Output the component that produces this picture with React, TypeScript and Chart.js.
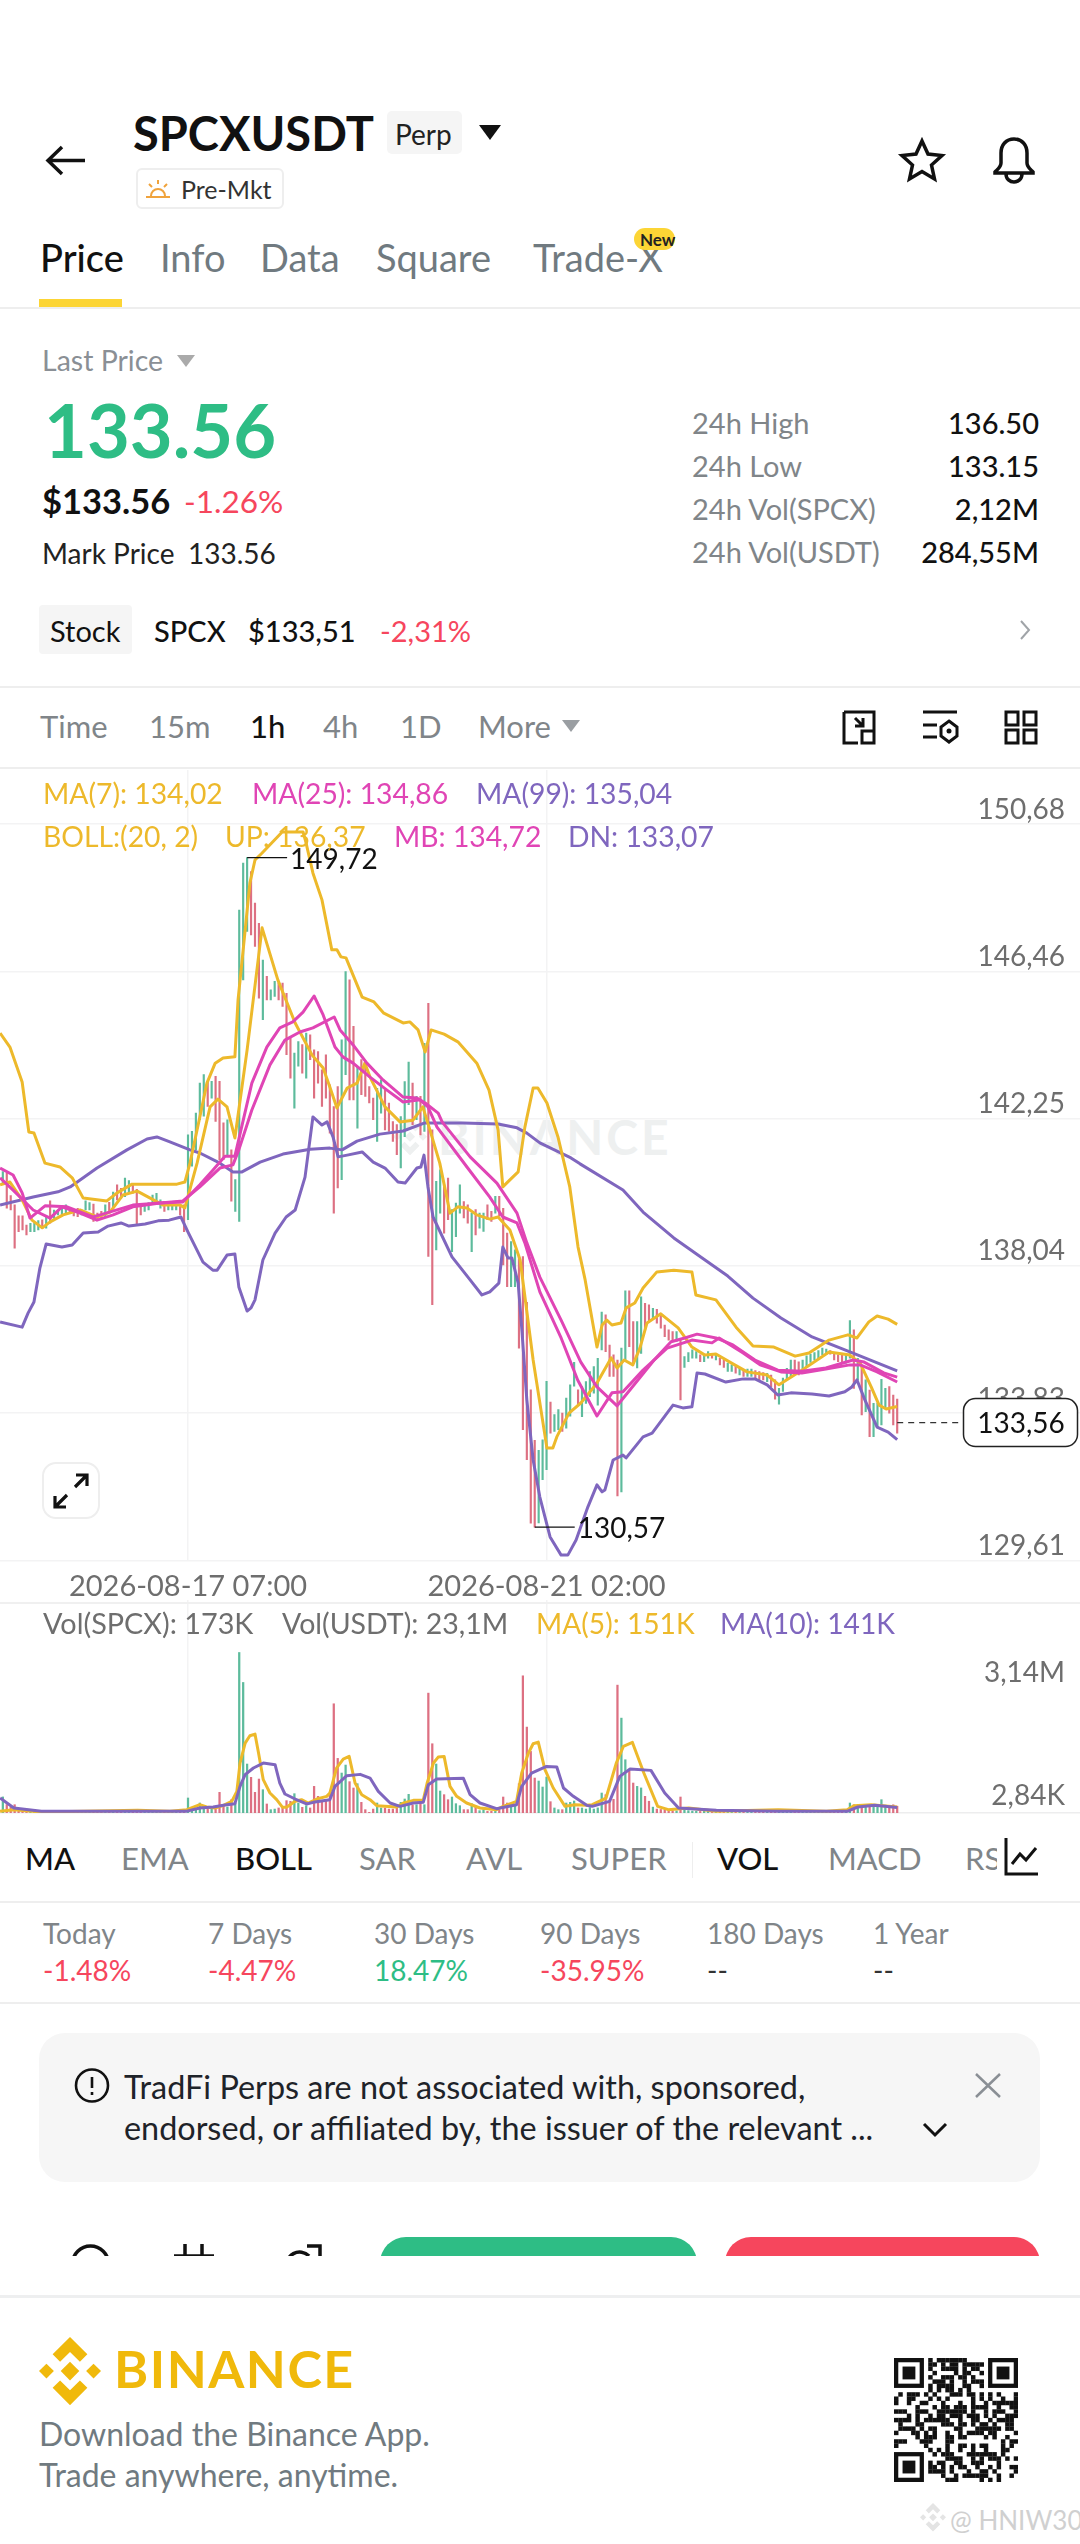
import React, { useEffect, useRef } from "react";
import { Chart, registerables } from "chart.js";

Chart.register(...registerables);

// ---------- price pane data (hours relative to 2026-08-17 07:00) ----------
const firstCandleHour = -47;
const candleSides =
  "GRRRRRRGGG" + "RGRGGGGRRR" + "GGGRRRGRGR" + "RGGRRRGGGG" + "GRGGGRRGGG" +
  "GGRGRRRGRG" + "GGGRRRGRGG" + "RRRRGGRGRR" + "RRRRRRGGRR" + "GRRRRGGRRR" +
  "RGGGRGRGRR" + "GGRRGGGRRG" + "RGGRRGRRRG" + "GRRRRRGGGR" + "GGRGGGRGGG" +
  "GGGRRRRGGR" + "RGGRRGRRRR" + "RGRGGGGRGG" + "RGRRGGRGRG" + "GRRRGRRGGG" +
  "GRRGGGGGGG" + "RRRRGGRGRG" + "RGGGGRRR";
const candleHigh = [
  140.74,140.69,140.05,139.79,139.47,139.47,139.21,139.26,139.26,139.34,
  139.36,139.43,139.90,139.64,139.64,139.69,139.79,139.69,139.60,139.69,
  139.64,139.90,139.85,139.81,139.55,139.60,139.79,139.86,140.15,140.36,
  140.26,140.55,140.48,140.36,140.23,139.79,139.79,139.85,140.07,140.12,
  139.93,139.88,139.83,139.81,139.79,139.74,139.79,
  141.79,141.89,142.41,143.27,143.51,143.32,143.32,143.46,143.32,142.13,
  142.22,141.36,140.51,148.22,149.56,149.72,149.32,148.42,147.84,146.79,
  146.32,145.94,146.18,146.13,146.13,145.84,144.60,144.13,144.46,144.37,
  144.70,144.65,144.22,144.17,143.65,144.08,143.22,142.60,143.17,144.51,
  146.46,146.22,144.89,143.75,143.94,143.84,143.17,142.84,143.12,143.36,
  143.08,142.70,142.17,142.08,142.31,143.31,143.87,143.27,142.89,142.89,
  144.41,145.55,141.93,140.46,140.79,140.36,140.55,139.65,139.84,140.36,
  139.88,139.79,139.55,139.65,139.55,139.55,139.79,139.60,140.03,140.03,
  139.69,138.98,138.74,138.50,138.31,138.31,137.00,134.50,133.05,132.77,
  133.07,134.74,134.15,133.79,133.93,133.83,134.26,134.64,135.28,134.50,
  134.59,134.73,135.02,135.16,135.40,136.72,136.64,135.78,135.50,135.35,
  135.69,137.33,137.33,136.45,136.45,137.16,136.97,136.93,136.83,136.80,
  136.64,136.35,136.21,136.16,136.16,135.97,135.45,135.56,135.64,135.59,
  135.50,135.50,135.59,135.54,135.50,135.40,135.35,135.26,135.21,135.16,
  135.11,135.07,135.09,135.09,135.05,135.02,134.99,134.97,134.92,134.78,
  134.54,134.83,135.11,135.35,135.35,135.30,135.35,135.47,135.52,135.56,
  135.62,135.69,135.66,135.62,135.56,135.50,135.50,135.50,136.48,136.21,
  135.40,135.16,134.78,134.49,134.11,134.11,134.80,134.54,134.59,134.35,
  134.23,
];
const candleLow = [
  140.41,139.69,139.64,138.55,139.02,139.07,138.93,139.02,139.02,139.07,
  139.12,139.12,139.26,139.40,139.50,139.50,139.55,139.55,139.47,139.45,
  139.50,139.64,139.64,139.31,139.36,139.40,139.45,139.60,139.69,139.93,
  139.98,140.02,140.12,140.12,139.24,139.50,139.60,139.64,139.83,139.88,
  139.69,139.60,139.64,139.64,139.64,139.50,139.02,
  139.36,140.89,141.36,142.22,142.32,142.60,142.84,142.17,141.08,141.08,
  141.22,139.89,139.60,139.31,146.22,147.61,147.51,147.18,145.70,145.08,
  145.65,145.65,145.75,145.65,145.46,144.08,143.41,142.55,143.75,143.55,
  143.41,143.94,142.84,143.27,142.60,142.84,141.84,139.55,140.27,140.51,
  143.51,142.79,142.79,141.98,142.94,142.89,142.70,142.22,141.60,142.41,
  141.93,141.89,141.60,141.22,140.84,141.74,142.65,142.08,142.22,141.79,
  141.89,138.31,136.93,138.50,139.55,138.98,139.36,138.45,138.88,139.55,
  139.41,139.26,138.45,138.93,139.12,139.03,139.36,139.31,139.55,139.46,
  138.07,137.45,137.45,137.45,135.69,133.36,132.50,130.68,130.57,130.69,
  131.93,132.21,133.26,133.31,133.36,133.31,133.40,133.74,134.60,134.07,
  133.73,134.11,134.30,134.40,134.06,135.64,135.59,134.88,134.88,131.46,
  131.58,135.30,135.73,135.26,135.12,135.54,136.21,136.45,136.50,136.40,
  136.26,136.02,135.92,135.88,135.88,134.21,135.14,135.30,135.40,135.40,
  135.30,135.30,135.40,135.40,135.35,135.21,135.14,135.02,135.02,134.97,
  134.92,134.88,134.88,134.88,134.83,134.78,134.78,134.73,134.59,134.23,
  134.09,134.45,134.78,134.88,134.97,134.92,135.07,135.16,135.28,135.35,
  135.40,135.50,135.50,135.52,135.35,135.30,135.26,135.26,135.40,134.54,
  134.78,133.78,133.87,133.16,133.16,133.45,133.49,133.97,133.83,133.49,
  133.26,
];

const bollUp: [number, number][] = [
  [-47.7,144.70],[-45.2,144.30],[-42.1,143.30],[-40.4,141.87],[-39.1,141.84],[-36.3,140.98],[-32.5,140.87],[-29.4,140.56],
  [-26.6,139.98],[-20.6,139.90],[-18,140.13],[-14.2,140.38],[-2.8,140.38],[-0.8,140.44],[0.5,140.98],[3,142.30],[4.8,143.27],
  [6.9,143.84],[8.9,143.99],[11.9,144.02],[12.7,145.65],[14,147.08],[15.7,148.99],[17,149.65],[18.8,149.85],[23.9,150.45],
  [29.2,150.45],[29.9,150.17],[31.7,149.28],[34,148.51],[36.5,147.08],[37.8,147.08],[38.8,146.88],[40.1,146.85],[44.2,145.73],
  [47.2,145.59],[49.7,145.27],[54.6,144.99],[56.3,145.02],[58.4,144.79],[60.2,144.16],[61.7,144.79],[65,144.67],[68.5,144.45],
  [73.3,143.84],[76.4,143.07],[78.7,141.93],[79.9,140.30],[81.7,140.50],[83.8,140.73],[85.5,142.01],[87.6,143.13],[88.8,143.13],
  [91.1,142.70],[93.9,141.73],[96.9,140.30],[99,138.58],[100.8,137.64],[103.8,135.72],[105.1,136.35],[106.3,136.49],[107.6,136.35],
  [109.9,136.41],[111.2,136.84],[113.4,136.98],[115.5,137.41],[119,137.87],[123.3,137.92],[127.9,137.87],[128.9,137.21],[134,137.07],
  [139.1,136.29],[143.4,135.75],[148.7,135.72],[154.1,135.46],[157.6,135.55],[162.7,135.92],[167.5,136.07],[169.8,135.98],
  [172.8,136.44],[174.9,136.61],[177.7,136.52],[180,136.37],
];
const bollDn: [number, number][] = [
  [-47.7,136.44],[-42.1,136.29],[-40.6,136.69],[-39.1,137.01],[-37.6,137.98],[-36,138.67],[-32,138.58],[-29.4,138.64],[-26.6,138.98],
  [-22.8,139.01],[-20.3,139.18],[-17,139.27],[-15,139.18],[-10.9,139.24],[-7.6,139.33],[-4.8,139.35],[-1.8,139.44],[0,139.01],
  [3.8,138.15],[6.3,137.92],[7.4,137.92],[9.9,138.35],[11.9,138.38],[12.9,137.44],[15,136.75],[16,136.84],[17,137.07],[19,138.21],
  [22.1,138.98],[24.9,139.44],[27.2,139.64],[29.7,140.58],[31.7,142.30],[34,142.07],[35.3,142.16],[36.8,141.73],[38.1,141.16],
  [40.4,141.21],[44.2,141.30],[47,141.01],[50,140.84],[53.3,140.44],[55.1,140.41],[58.1,140.84],[59.1,140.87],[59.9,141.21],
  [60.9,140.30],[62.2,139.44],[67,138.30],[71.6,137.64],[74.6,137.21],[76.6,137.30],[78.9,137.55],[79.9,138.58],[81.2,138.27],
  [82.2,138.27],[83.8,137.55],[84.8,136.12],[86,134.21],[87.6,132.49],[89.3,131.43],[91.9,130.29],[94.7,129.77],[96.4,129.77],
  [98.5,130.20],[101.5,131.15],[103.8,131.78],[105.1,131.58],[105.8,131.63],[107.9,132.49],[110.4,132.63],[111.2,132.55],
  [115.5,133.15],[117.8,133.26],[123.1,134.06],[125.6,133.98],[127.9,134.01],[129.2,134.98],[131.2,134.95],[136.5,134.72],
  [140.9,134.81],[143.9,134.81],[147,134.64],[149.7,134.35],[153,134.41],[158.4,134.38],[162.7,134.32],[166.7,134.44],[168.5,134.58],
  [169.8,134.78],[171.8,134.21],[174.9,133.43],[177.7,133.29],[180,133.07],
];
const bollMb: [number, number][] = [
  [-47.7,140.56],[-44.4,140.21],[-39.3,139.64],[-35,139.41],[-32,139.73],[-27.4,139.55],[-23.1,139.35],[-19,139.50],[-14,139.73],
  [-7.1,139.84],[-1.3,139.87],[3,140.36],[6.3,140.78],[8.1,141.01],[9.4,141.18],[11.9,141.18],[16.2,143.27],[20,144.30],[23.3,144.85],
  [26.6,145.02],[29.2,145.30],[32,145.76],[34.3,145.22],[37.3,144.30],[39.3,144.02],[41.9,143.84],[46.2,143.44],[50.5,143.07],
  [54.6,142.73],[58.9,142.79],[60.9,142.59],[63.2,142.01],[70.8,140.87],[76.6,140.01],[79.9,139.44],[83.5,139.27],[85.5,138.70],
  [89.3,137.30],[94.7,135.98],[98.9,134.78],[103.8,133.75],[107.6,134.41],[110.4,134.44],[115.5,135.06],[121.6,135.69],[127.9,135.92],
  [133,135.84],[134.8,135.98],[140.9,135.55],[145.2,135.21],[150.5,135.01],[155.8,134.98],[161.9,135.09],[168,135.21],[170.6,135.21],
  [174.9,135.01],[180,134.72],
];
const ma7: [number, number][] = [
  [-47.7,140.36],[-45.2,140.44],[-42.1,139.93],[-39.6,139.35],[-37,139.13],[-35,139.30],[-31.7,139.50],[-27.4,139.64],[-23.1,139.44],
  [-19.8,139.58],[-16.5,140.07],[-12.9,140.18],[-9.6,139.98],[-6.3,139.78],[-2,139.78],[-0.8,139.70],[2.3,140.98],[5.6,142.59],
  [7.6,142.81],[9.9,142.59],[11.9,141.70],[15,144.22],[18.8,147.71],[22.8,146.22],[27.2,144.99],[31.5,144.07],[34.3,143.70],[36,143.16],
  [37.8,142.56],[40.4,143.13],[42.9,143.27],[44.9,143.84],[46.2,143.44],[50,142.59],[53.8,142.16],[57.1,142.21],[59.6,142.59],
  [61.4,141.93],[63.9,140.98],[66.5,139.55],[68.5,139.73],[70.8,139.70],[73.3,139.50],[76.6,139.38],[78.7,139.44],[81.7,139.07],
  [84.3,138.21],[87.6,135.35],[91.1,132.83],[92.6,132.83],[93.6,133.15],[96.7,133.83],[99.7,134.12],[103.8,134.69],[107.4,135.41],
  [108.9,135.12],[110.7,135.35],[112.9,135.21],[114.7,135.69],[116.5,136.41],[120,136.67],[124.4,136.27],[127.9,135.72],[131.2,135.49],
  [134,135.52],[138.3,135.24],[141.9,135.01],[147,134.92],[150,134.64],[155.8,135.06],[162.7,135.58],[168,135.49],[170.6,135.26],
  [173.4,134.58],[175.4,134.06],[177.2,133.95],[180,134.02],
];
const ma25: [number, number][] = [
  [-47.7,140.84],[-44.4,140.64],[-42.1,140.13],[-40.1,139.41],[-36.3,139.76],[-30.7,139.73],[-24.1,139.44],[-22.3,139.50],[-14,139.78],
  [-7.1,139.84],[-1.3,139.90],[3,140.30],[8.1,140.84],[11.4,140.93],[12.9,141.36],[16.2,142.50],[20.8,143.79],[24.6,144.50],[28.4,144.73],
  [31.7,144.85],[37.1,145.16],[38.6,144.79],[41.9,144.36],[45.4,143.84],[49.5,143.36],[54.6,142.87],[58.1,142.84],[60.2,142.70],
  [63.5,142.41],[64.5,142.16],[71.6,141.16],[78.4,140.41],[83.5,139.55],[86,138.70],[89.3,137.72],[94.7,136.49],[99.7,135.29],
  [103.8,134.58],[108.9,134.04],[112.2,134.50],[118.3,135.35],[122.6,135.87],[126.1,135.98],[129.2,136.09],[134,135.98],[138.3,135.78],
  [143.9,135.35],[149.7,135.06],[155.8,135.03],[161.9,135.12],[168.8,135.35],[171.6,135.29],[176.6,134.98],[180,134.86],
];
const ma99: [number, number][] = [
  [-47.7,139.78],[-39.3,140.01],[-33,140.16],[-29.9,140.30],[-23.1,140.84],[-15.5,141.36],[-10.4,141.67],[-7.9,141.73],[-4.6,141.59],
  [0.5,141.36],[3,141.27],[8.1,140.98],[11.4,140.73],[13.7,140.73],[18.3,141.01],[24.1,141.24],[31,141.38],[36,141.41],[39.1,141.36],
  [42.9,141.61],[48.7,141.81],[54.6,141.90],[60.1,142.13],[69.8,142.13],[78.7,142.10],[83.5,141.99],[86,141.84],[89.3,141.56],
  [97.2,141.13],[99.5,140.96],[110.4,140.21],[115.5,139.58],[123.3,138.84],[130.5,138.27],[137,137.75],[143.4,137.12],[150.5,136.55],
  [158.4,136.01],[168,135.58],[180,135.04],
];
const priceTicks = [150.68, 146.46, 142.25, 138.04, 133.83, 129.61];
const dateTicks: Record<number, string> = { 0: "2026-08-17 07:00", 91: "2026-08-21 02:00" };
const lastPrice = 133.56;
const highMark: [number, number] = [15, 149.72];
const lowMark: [number, number] = [88, 130.57];

// ---------- volume pane data (thousands of SPCX) ----------
const volumes = [
  410,215,150,212,105,70,60,48,40,35,32,30,28,25,28,24,22,25,30,28,
  32,30,36,40,35,30,28,34,40,38,44,36,30,28,32,35,30,26,30,34,38,30,28,26,32,36,42,
  383,85,85,255,170,100,100,128,527,170,
  153,340,255,4097,3332,1250,910,527,867,595,
  230,85,100,128,128,315,298,493,255,145,
  187,128,680,425,315,340,493,2788,1394,1020,
  1224,800,638,748,272,85,17,100,255,128,
  128,100,100,128,272,357,476,204,212,255,
  212,3060,1768,1250,561,468,340,408,238,187,
  85,85,238,145,60,85,42,42,42,68,
  408,255,212,187,748,3502,2193,1572,892,816,
  663,918,289,128,85,85,255,272,306,128,
  128,100,140,100,130,510,467,300,350,3264,
  2422,1360,1105,765,680,640,425,300,150,100,
  90,80,70,60,55,408,75,60,50,45,
  40,50,55,42,48,40,35,44,38,30,
  42,36,40,46,38,32,34,48,42,50,
  60,44,55,62,48,52,40,58,46,44,
  50,62,56,46,38,44,52,60,255,210,
  190,170,180,200,220,180,340,200,190,210,
  173,
];
const volMa5: [number, number][] = [
  [-47.7,42],[-44.2,85],[-37.2,25],[-12.8,68],[-4.6,42],[-0.3,85],[3,212],[4.7,153],[6.9,128],[9,195],[11.1,298],[12.4,552],[13.2,1275],
  [14.5,1785],[15.7,1972],[17,2015],[17.9,1530],[19.1,850],[20.8,510],[22.5,340],[24,145],[25,145],[27.2,298],[28.8,340],[30.5,255],
  [32.7,357],[35.2,425],[36,510],[37.7,1148],[39.4,1377],[40.9,1445],[42.4,765],[44.1,468],[46.2,340],[47.9,187],[53,153],[54.7,255],
  [57.2,323],[59.7,323],[60.7,765],[62.3,1275],[63.5,1428],[65,1445],[66.5,680],[68.2,425],[70.7,255],[74.1,128],[78.3,85],[80,170],
  [83.4,298],[84.7,1020],[86.4,1530],[87.6,1768],[88.9,1810],[90.6,1105],[92.7,638],[95.7,170],[98.2,212],[101.2,195],[102.6,212],
  [106.1,382],[108.7,1275],[110.5,1700],[112.8,1802],[115.7,1020],[119.2,170],[121.9,85],[127.1,128],[134.1,42],[149.8,85],[162,42],
  [167.3,85],[169,187],[173.4,212],[180,151],
];
const volMa10: [number, number][] = [
  [-47.7,382],[-44.2,128],[-37.2,42],[-0.5,42],[3,128],[6.4,153],[9.4,204],[11.9,238],[13.2,680],[14.5,978],[16.6,1148],[19.1,1275],
  [22.1,1232],[23.3,765],[24.6,485],[27.2,357],[30.1,230],[31.8,272],[36,340],[37.3,680],[40.3,952],[43.7,986],[46.2,892],[48.3,552],
  [51.3,255],[53.8,170],[57.2,255],[59.7,272],[61,722],[63.1,867],[69.9,884],[71.6,468],[74.1,255],[78.3,110],[83.4,212],[84.7,680],
  [87.2,1020],[91,1190],[93.6,1173],[95.3,638],[97.8,425],[101.2,195],[102.6,170],[107,298],[109.6,935],[112.2,1122],[117.5,1088],
  [121,510],[124.5,128],[134.1,68],[149.8,42],[167.3,42],[170,153],[174.3,195],[180,141],
];
const volumeTicks: Record<number, string> = { 2.84: "2,84K", 3140: "3,14M" };

// ---------- page text ----------
const timeTabs = [["Time", 40, 0], ["15m", 149, 0], ["1h", 250, 1], ["4h", 323, 0], ["1D", 400, 0], ["More", 478, 0]] as const;
const pageTabs = [["Price", 40, 1], ["Info", 160, 0], ["Data", 260, 0], ["Square", 376, 0], ["Trade-X", 533, 0]] as const;
const stats = [["24h High", "136.50", 422], ["24h Low", "133.15", 465], ["24h Vol(SPCX)", "2,12M", 508], ["24h Vol(USDT)", "284,55M", 551]] as const;
const indicators = [["MA", 25, 1], ["EMA", 121, 0], ["BOLL", 235, 1], ["SAR", 359, 0], ["AVL", 466, 0], ["SUPER", 571, 0], ["VOL", 717, 1], ["MACD", 828, 0], ["RS", 965, 0]] as const;
const periods = [["Today", "-1.48%", 43], ["7 Days", "-4.47%", 208], ["30 Days", "18.47%", 374], ["90 Days", "-35.95%", 540], ["180 Days", "--", 707], ["1 Year", "--", 873]] as const;

const GREEN = "#2EBD85";
const RED = "#F6465D";
const YELLOW = "#EDB92B";
const MAGENTA = "#E045B5";
const PURPLE = "#7F66BE";
const WICK_G = "#5DBB9C";
const WICK_R = "#DD7082";
const GRID = "#F3F3F4";
const AXIS_TXT = "#6E6E6E";
const FONT = "Lato, 'Open Sans', sans-serif";
const CHART_FONT = "Lato";

const pts = (a: [number, number][]) => a.map(([x, y]) => ({ x, y }));
const xMin = -47.72;
const xMax = 226.4;

function T(p: { x: number; y: number; s: number; c?: string; w?: number; right?: boolean; ls?: number; children: React.ReactNode }) {
  const pos: React.CSSProperties = p.right ? { right: 1080 - p.x } : { left: p.x };
  return (
    <div style={{ position: "absolute", ...pos, top: p.y, transform: "translateY(-50%)", whiteSpace: "nowrap", fontFamily: FONT, fontSize: p.s, color: p.c ?? "#1E2329", fontWeight: p.w ?? 400, letterSpacing: p.ls ?? 0, lineHeight: 1 }}>
      {p.children}
    </div>
  );
}
function Box(p: { x: number; y: number; w: number; h: number; bg?: string; r?: number; border?: string; children?: React.ReactNode }) {
  return <div style={{ position: "absolute", left: p.x, top: p.y, width: p.w, height: p.h, background: p.bg, borderRadius: p.r, border: p.border, boxSizing: "border-box", overflow: "hidden" }}>{p.children}</div>;
}
function Tri(p: { x: number; y: number; w: number; h: number; c: string }) {
  return (
    <svg style={{ position: "absolute", left: p.x, top: p.y }} width={p.w} height={p.h} viewBox="0 0 10 10" preserveAspectRatio="none">
      <polygon points="0,0 10,0 5,10" fill={p.c} />
    </svg>
  );
}
function Icon(p: { x: number; y: number; w: number; h: number; vb?: string; children: React.ReactNode }) {
  return (
    <svg style={{ position: "absolute", left: p.x, top: p.y, overflow: "visible" }} width={p.w} height={p.h} viewBox={p.vb ?? `0 0 ${p.w} ${p.h}`} fill="none" stroke="#111" strokeWidth={3.5}>
      {p.children}
    </svg>
  );
}

function Qr() {
  const n = 29;
  const cell = 124 / n;
  const rects: React.ReactNode[] = [];
  const isFinder = (r: number, c: number) => (r < 8 && c < 8) || (r < 8 && c >= n - 8) || (r >= n - 8 && c < 8);
  let s = 0x5a3c;
  for (let r = 0; r < n; r++) {
    for (let c = 0; c < n; c++) {
      s = ((s << 1) | (((s >> 15) ^ (s >> 13) ^ (s >> 12) ^ (s >> 10)) & 1)) & 0xffff;
      if (!isFinder(r, c) && s & 1) rects.push(<rect key={`${r}-${c}`} x={c * cell} y={r * cell} width={cell + 0.2} height={cell + 0.2} fill="#111" />);
    }
  }
  const finder = (x: number, y: number) => (
    <g key={`${x}-${y}`}>
      <rect x={x * cell} y={y * cell} width={7 * cell} height={7 * cell} fill="#111" />
      <rect x={(x + 1) * cell} y={(y + 1) * cell} width={5 * cell} height={5 * cell} fill="#fff" />
      <rect x={(x + 2) * cell} y={(y + 2) * cell} width={3 * cell} height={3 * cell} fill="#111" />
    </g>
  );
  return (
    <svg style={{ position: "absolute", left: 894, top: 2358 }} width={124} height={124}>
      {rects}
      {finder(0, 0)}
      {finder(n - 7, 0)}
      {finder(0, n - 7)}
    </svg>
  );
}

function BinanceMark(p: { x: number; y: number; size: number; c: string }) {
  return (
    <svg style={{ position: "absolute", left: p.x, top: p.y }} width={p.size} height={p.size * 1.1} viewBox="0 0 100 110" preserveAspectRatio="none">
      <g fill={p.c}>
        <polygon points="50,0 78,28 66,40 50,24 34,40 22,28" />
        <polygon points="50,110 22,82 34,70 50,86 66,70 78,82" />
        <polygon points="12,43 24,55 12,67 0,55" />
        <polygon points="88,43 100,55 88,67 76,55" />
        <polygon points="50,40 65,55 50,70 35,55" />
      </g>
    </svg>
  );
}

export default function App() {
  const priceRef = useRef<HTMLCanvasElement>(null);
  const volRef = useRef<HTMLCanvasElement>(null);

  useEffect(() => {
    document.body.style.margin = "0";
    const hours = candleHigh.map((_, i) => firstCandleHour + i);
    const sideColors = hours.map((_, i) => (candleSides[i] === "G" ? WICK_G : WICK_R));

    const line = (label: string, data: [number, number][], color: string, order: number, width = 3) => ({
      type: "line" as const,
      label,
      data: pts(data),
      borderColor: color,
      borderWidth: width,
      pointRadius: 0,
      tension: 0,
      order,
      borderJoinStyle: "round" as const,
    });

    const overlay = {
      id: "overlay",
      afterDraw(chart: any) {
        const { ctx, scales } = chart;
        const xs = scales.x;
        const ys = scales.y;
        ctx.save();
        ctx.textBaseline = "middle";
        ctx.font = `28px ${CHART_FONT}`;
        ctx.fillStyle = "#111";
        ctx.strokeStyle = "#111";
        ctx.lineWidth = 1.2;
        for (const [h, p] of [highMark, lowMark]) {
          const px = xs.getPixelForValue(h);
          const py = ys.getPixelForValue(p);
          ctx.beginPath();
          ctx.moveTo(px, py);
          ctx.lineTo(px + 40, py);
          ctx.stroke();
          ctx.textAlign = "left";
          ctx.fillText(p.toFixed(2).replace(".", ","), px + 43, py + 2);
        }
        const tagY = ys.getPixelForValue(lastPrice);
        const tagStart = xs.getPixelForValue(180);
        ctx.setLineDash([6, 5]);
        ctx.lineWidth = 1.3;
        ctx.strokeStyle = "#333";
        ctx.beginPath();
        ctx.moveTo(tagStart, tagY);
        ctx.lineTo(963, tagY);
        ctx.stroke();
        ctx.setLineDash([]);
        ctx.fillStyle = "#fff";
        ctx.strokeStyle = "#222";
        ctx.lineWidth = 1.5;
        ctx.beginPath();
        ctx.roundRect(963.5, tagY - 24, 114, 48, 12);
        ctx.fill();
        ctx.stroke();
        ctx.fillStyle = "#111";
        ctx.textAlign = "center";
        ctx.fillText(lastPrice.toFixed(2).replace(".", ","), 1021, tagY + 1);
        ctx.restore();
      },
    };

    const noPad = (s: any) => {
      s.paddingTop = 0;
      s.paddingBottom = 0;
      s.paddingLeft = 0;
      s.paddingRight = 0;
    };

    const price = new Chart(priceRef.current!, {
      type: "bar",
      plugins: [overlay],
      data: {
        datasets: [
          line("MA(99)", ma99, PURPLE, 6),
          line("DN", bollDn, PURPLE, 5),
          line("UP", bollUp, YELLOW, 4),
          line("MA(7)", ma7, YELLOW, 3),
          line("MA(25)", ma25, MAGENTA, 2),
          line("MB", bollMb, MAGENTA, 1),
          {
            type: "bar" as const,
            label: "Candles",
            data: hours.map((h, i) => ({ x: h, y: [candleLow[i], candleHigh[i]] })),
            backgroundColor: sideColors,
            barThickness: 1.5,
            grouped: false,
            order: 10,
          },
        ] as any,
      },
      options: {
        animation: false,
        responsive: false,
        layout: { padding: 0 },
        plugins: { legend: { display: false }, tooltip: { enabled: false } },
        scales: {
          x: {
            type: "linear",
            min: xMin,
            max: xMax,
            offset: false,
            grid: { color: GRID, lineWidth: 1.5, offset: false, drawTicks: false },
            border: { display: false },
            afterBuildTicks: (s: any) => {
              s.ticks = Object.keys(dateTicks).map((v) => ({ value: Number(v) }));
            },
            afterFit: (s: any) => {
              s.height = 49.3;
              noPad(s);
            },
            ticks: {
              autoSkip: false,
              maxRotation: 0,
              padding: 9,
              color: AXIS_TXT,
              font: { family: CHART_FONT, size: 29 },
              callback: (v: any) => dateTicks[v] ?? "",
            },
          },
          y: {
            type: "linear",
            position: "right",
            min: 129.61,
            max: 152.224,
            grid: { color: GRID, lineWidth: 1.5, drawTicks: false },
            border: { display: false },
            afterBuildTicks: (s: any) => {
              s.ticks = priceTicks.map((v) => ({ value: v }));
            },
            afterFit: (s: any) => {
              s.width = 0;
              noPad(s);
            },
            ticks: {
              mirror: true,
              padding: -15,
              labelOffset: -14.5,
              color: AXIS_TXT,
              font: { family: CHART_FONT, size: 28 },
              callback: (v: any) => Number(v).toFixed(2).replace(".", ","),
            },
          },
        },
      } as any,
    });

    const vol = new Chart(volRef.current!, {
      type: "bar",
      data: {
        datasets: [
          line("MA(10)", volMa10, PURPLE, 1, 3),
          line("MA(5)", volMa5, YELLOW, 2, 3),
          {
            type: "bar" as const,
            label: "Volume",
            data: hours.map((h, i) => ({ x: h, y: volumes[i] })),
            backgroundColor: sideColors,
            barThickness: 1.6,
            grouped: false,
            order: 10,
          },
        ] as any,
      },
      options: {
        animation: false,
        responsive: false,
        layout: { padding: 0 },
        plugins: { legend: { display: false }, tooltip: { enabled: false } },
        scales: {
          x: {
            type: "linear",
            min: xMin,
            max: xMax,
            offset: false,
            grid: { color: GRID, lineWidth: 1.5, offset: false, drawTicks: false },
            border: { display: false },
            afterBuildTicks: (s: any) => {
              s.ticks = Object.keys(dateTicks).map((v) => ({ value: Number(v) }));
            },
            afterFit: (s: any) => {
              s.height = 1;
              noPad(s);
            },
            ticks: { display: false },
          },
          y: {
            type: "linear",
            position: "right",
            min: 0,
            max: 5437,
            grid: {
              drawTicks: false,
              lineWidth: 1.5,
              color: (c: any) => (c.tick?.value === 3140 ? "transparent" : "#EDEDEE"),
            },
            border: { display: false },
            afterBuildTicks: (s: any) => {
              s.ticks = Object.keys(volumeTicks).map((v) => ({ value: Number(v) }));
            },
            afterFit: (s: any) => {
              s.width = 0;
              noPad(s);
            },
            ticks: {
              mirror: true,
              padding: -15,
              labelOffset: -17,
              color: AXIS_TXT,
              font: { family: CHART_FONT, size: 28 },
              callback: (v: any) => volumeTicks[v] ?? "",
            },
          },
        },
      } as any,
    });

    return () => {
      price.destroy();
      vol.destroy();
    };
  }, []);

  return (
    <div style={{ position: "absolute", left: 0, top: 0, width: 1080, height: 2544, background: "#fff", overflow: "hidden" }}>
      {/* header */}
      <Icon x={45} y={145} w={40} h={31}>
        <path d="M40 15.5H3M17 2L3 15.5L17 29" />
      </Icon>
      <T x={133} y={133} s={47} w={700} c="#111">SPCXUSDT</T>
      <Box x={387} y={111} w={75} h={43} bg="#F5F5F5" r={5} />
      <T x={395} y={134} s={28} c="#222">Perp</T>
      <Tri x={479} y={125} w={22} h={15} c="#111" />
      <Box x={136} y={168} w={148} h={41} r={6} border="2px solid #EEE" />
      <Icon x={146} y={180} w={24} h={18}>
        <g stroke="#F0A33C" strokeWidth={2}>
          <path d="M5 16a7 7 0 0 1 14 0M0 17h24M12 0v4M3 4l3 3M21 4l-3 3" />
        </g>
      </Icon>
      <T x={181} y={189} s={25} c="#333">Pre-Mkt</T>
      <Icon x={900} y={138} w={44} h={44}>
        <polygon points="22,3 28,16 42,17.5 31.5,27 34.5,41 22,33.5 9.5,41 12.5,27 2,17.5 16,16" />
      </Icon>
      <Icon x={992} y={137} w={44} h={46}>
        <path d="M22 2c-8 0-13 6-13 14v10c0 4-3 6-6 9v1h38v-1c-3-3-6-5-6-9V16c0-8-5-14-13-14zM14 37c0 5 4 8 8 8s8-3 8-8" />
      </Icon>
      {pageTabs.map(([t, x, on]) => (
        <T key={t} x={x} y={257} s={38} c={on ? "#111" : "#707A80"} w={on ? 500 : 400}>{t}</T>
      ))}
      <Box x={634} y={228} w={41} h={22} bg="#FCD535" r={11} />
      <T x={640} y={239} s={17} w={700} c="#222">New</T>
      <Box x={39} y={299} w={83} h={8} bg="#FCD535" />
      <Box x={0} y={307} w={1080} h={1.5} bg="#EEE" />

      {/* price summary */}
      <T x={42} y={360} s={28.5} c="#8A8F95">Last Price</T>
      <Tri x={177} y={355} w={18} h={12} c="#AAAAAA" />
      <T x={44} y={430} s={74} w={700} c={GREEN}>133.56</T>
      <T x={42} y={501} s={34.5} w={700} c="#111">$133.56</T>
      <T x={184} y={502} s={31.5} c={RED}>-1.26%</T>
      <T x={42} y={553} s={28} c="#222">Mark Price</T>
      <T x={188} y={553} s={28} c="#222">133.56</T>
      {stats.map(([l, v, y]) => (
        <React.Fragment key={l}>
          <T x={692} y={y} s={29} c="#808589">{l}</T>
          <T x={1039} y={y} s={29} w={500} c="#111" right>{v}</T>
        </React.Fragment>
      ))}
      <Box x={39} y={605} w={93} h={49} bg="#F5F5F5" r={4} />
      <T x={50} y={630} s={29} c="#111">Stock</T>
      <T x={154} y={630} s={29} w={500} c="#111">SPCX</T>
      <T x={248} y={630} s={29} w={500} c="#111">$133,51</T>
      <T x={380} y={630} s={29} c={RED}>-2,31%</T>
      <Icon x={1019} y={620} w={12} h={20}>
        <path d="M2 1L10 10L2 19" stroke="#A0A4A8" strokeWidth={2} />
      </Icon>
      <Box x={0} y={686} w={1080} h={1.5} bg="#EEE" />

      {/* interval row */}
      {timeTabs.map(([t, x, on]) => (
        <T key={t} x={x} y={726} s={31} c={on ? "#111" : "#808589"} w={on ? 500 : 400}>{t}</T>
      ))}
      <Tri x={562} y={720} w={18} h={12} c="#9A9EA2" />
      <Icon x={842} y={710} w={34} h={35}>
        <path d="M2 2h30v20M2 2v31h14M13 8l8 8M13 16h8V8M20 21h12v12H20z" strokeWidth={3} />
      </Icon>
      <Icon x={921} y={710} w={38} h={35}>
        <path d="M2 2h34M2 15h14M2 27h14M28 11l8 6v9l-8 6-8-6v-9z" strokeWidth={3} />
        <circle cx={28} cy={21} r={2.5} fill="#111" stroke="none" />
      </Icon>
      <Icon x={1004} y={710} w={34} h={35}>
        <path d="M2 2h12v13H2zM20 2h12v13H20zM2 20h12v13H2zM20 20h12v13H20z" strokeWidth={3} />
      </Icon>
      <Box x={0} y={767} w={1080} h={1.5} bg="#EEE" />

      {/* watermark under the chart */}
      <BinanceMark x={393} y={1118} size={34} c="#EEF0F0" />
      <T x={438} y={1137} s={48} w={700} c="#EEF0F0" ls={3}>BINANCE</T>

      <canvas ref={priceRef} width={1080} height={840} style={{ position: "absolute", left: 0, top: 770, width: 1080, height: 840 }} />
      <canvas ref={volRef} width={1080} height={214} style={{ position: "absolute", left: 0, top: 1600, width: 1080, height: 214 }} />
      <Box x={0} y={1602} w={1080} h={1.5} bg="#F0F0F0" />

      {/* legends */}
      <T x={43} y={793} s={28.3} c={YELLOW}>MA(7): 134,02</T>
      <T x={252} y={793} s={28.3} c={MAGENTA}>MA(25): 134,86</T>
      <T x={476} y={793} s={28.3} c={PURPLE}>MA(99): 135,04</T>
      <T x={43} y={836} s={28.3} c={YELLOW}>BOLL:(20, 2)</T>
      <T x={225} y={836} s={28.3} c={YELLOW}>UP: 136,37</T>
      <T x={394} y={836} s={28.3} c={MAGENTA}>MB: 134,72</T>
      <T x={568} y={836} s={28.3} c={PURPLE}>DN: 133,07</T>
      <T x={43} y={1623} s={28.8} c={AXIS_TXT}>Vol(SPCX): 173K</T>
      <T x={282} y={1623} s={28.5} c={AXIS_TXT}>Vol(USDT): 23,1M</T>
      <T x={536} y={1623} s={28.2} c={YELLOW}>MA(5): 151K</T>
      <T x={720} y={1623} s={28.2} c={PURPLE}>MA(10): 141K</T>

      {/* expand button */}
      <Box x={42} y={1462} w={58} h={57} r={14} border="2px solid #EEE" bg="#fff" />
      <Icon x={52} y={1472} w={38} h={38}>
        <path d="M23 15L35 3M24 3h11v11M15 23L3 35M3 24v11h11" strokeWidth={3.2} />
      </Icon>

      {/* indicators */}
      {indicators.map(([t, x, on]) => (
        <T key={t} x={x} y={1858} s={31} c={on ? "#111" : "#808589"} w={on ? 500 : 400}>{t}</T>
      ))}
      <Box x={692} y={1842} w={1} h={36} bg="#EEE" />
      <Box x={997} y={1830} w={83} h={60} bg="#fff" />
      <Icon x={1004} y={1838} w={34} h={38}>
        <path d="M2 0v36h32M8 26l8-10 6 6 10-12" strokeWidth={3} />
      </Icon>
      <Box x={0} y={1901} w={1080} h={1.5} bg="#EEE" />

      {/* performance */}
      {periods.map(([l, v, x]) => (
        <React.Fragment key={l}>
          <T x={x} y={1933} s={28} c="#808589">{l}</T>
          <T x={x} y={1970} s={28} c={v === "--" ? "#333" : v.startsWith("-") ? RED : GREEN}>{v}</T>
        </React.Fragment>
      ))}
      <Box x={0} y={2002} w={1080} h={1.5} bg="#EEE" />

      {/* notice */}
      <Box x={39} y={2033} w={1001} h={149} r={26} bg="#F6F6F6" />
      <Icon x={74} y={2068} w={36} h={35}>
        <circle cx={18} cy={17.5} r={16} strokeWidth={2.6} />
        <path d="M18 9v11M18 24v3" strokeWidth={2.6} />
      </Icon>
      <T x={124} y={2087} s={32.4} c="#1E2329">TradFi Perps are not associated with, sponsored,</T>
      <T x={124} y={2128} s={32.4} c="#1E2329">endorsed, or affiliated by, the issuer of the relevant ...</T>
      <Icon x={975} y={2073} w={26} h={25}>
        <path d="M1 1L25 24M25 1L1 24" stroke="#8A8F95" strokeWidth={2.5} />
      </Icon>
      <Icon x={923} y={2123} w={24} h={13}>
        <path d="M1 1L12 12L23 1" strokeWidth={3} />
      </Icon>

      {/* action row, clipped */}
      <div style={{ position: "absolute", left: 0, top: 2230, width: 1080, height: 26, overflow: "hidden" }}>
        <Box x={380} y={7} w={317} h={60} r={26} bg={GREEN} />
        <Box x={725} y={7} w={315} h={60} r={26} bg={RED} />
        <Icon x={71} y={14} w={39} h={40}>
          <circle cx={19.5} cy={20} r={18} />
        </Icon>
        <Icon x={172} y={12} w={45} h={30}>
          <path d="M2 14h40M13 2v28M30 2v28" />
        </Icon>
        <Icon x={285} y={12} w={37} h={30}>
          <path d="M2 26a13 13 0 0 1 22-12M22 4h13v26" />
        </Icon>
      </div>
      <Box x={0} y={2295} w={1080} h={3} bg="#EEEFF0" />

      {/* footer */}
      <BinanceMark x={39} y={2337} size={62} c="#F0B90B" />
      <T x={114} y={2368} s={52} w={700} c="#F0B90B" ls={1.5}>BINANCE</T>
      <T x={39} y={2434} s={32} c="#707A80">Download the Binance App.</T>
      <T x={39} y={2475} s={32} c="#707A80">Trade anywhere, anytime.</T>
      <Qr />
      <T x={950} y={2520} s={26} c="#D0D0D0">@ HNIW30</T>
      <BinanceMark x={920} y={2503} size={26} c="#E4E4E4" />
    </div>
  );
}
